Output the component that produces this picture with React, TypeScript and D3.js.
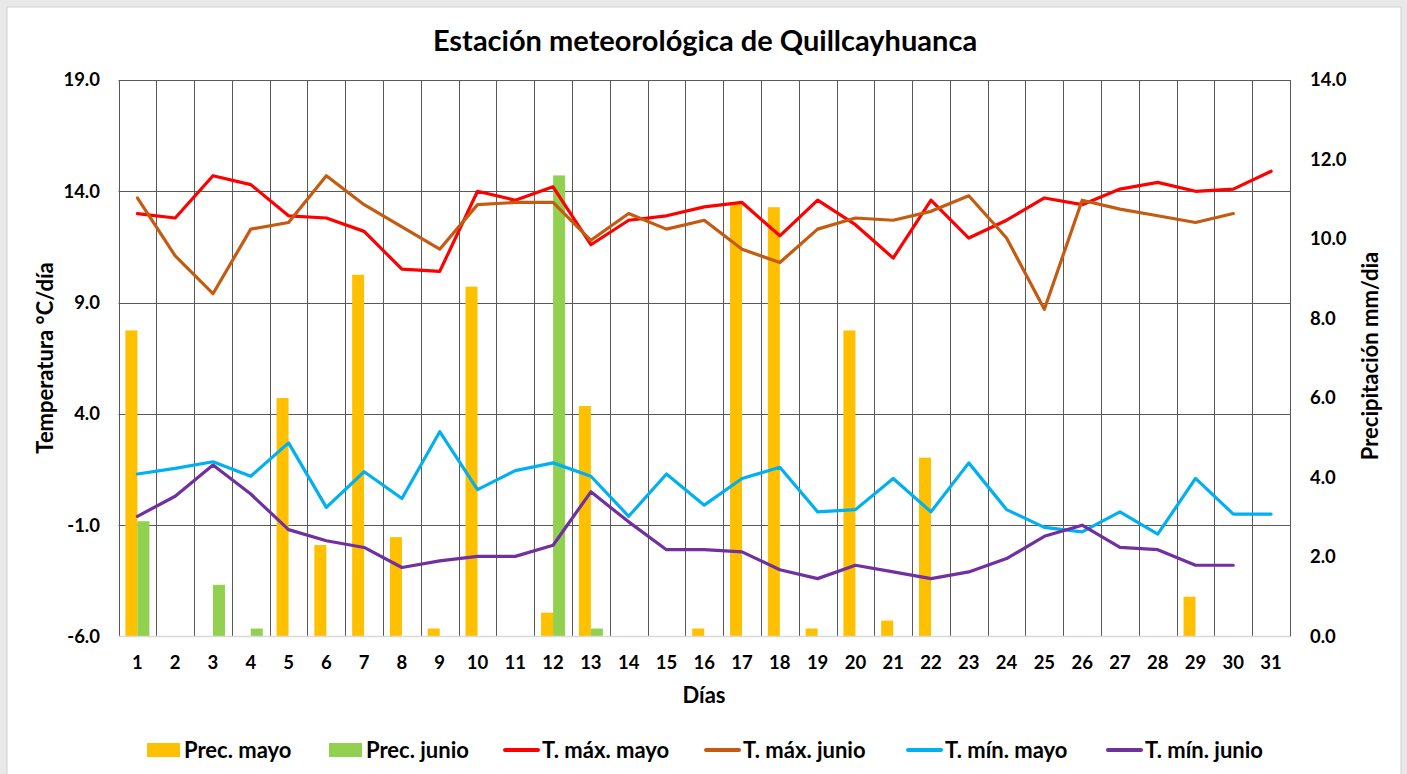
import React from "react";
import * as d3 from "d3";

// ---------- DATA ----------
const days: number[] = Array.from({ length: 31 }, (_, i) => i + 1);

const precMayo: number[] = [7.7, 0, 0, 0, 6.0, 2.3, 9.1, 2.5, 0.2, 8.8, 0, 0.6, 5.8, 0, 0, 0.2, 10.9, 10.8, 0.2, 7.7, 0.4, 4.5, 0, 0, 0, 0, 0, 0, 1.0, 0, 0];
const precJunio: number[] = [2.9, 0, 1.3, 0.2, 0, 0, 0, 0, 0, 0, 0, 11.6, 0.2, 0, 0, 0, 0, 0, 0, 0, 0, 0, 0, 0, 0, 0, 0, 0, 0, 0];

const tMaxMayo: number[] = [13.0, 12.8, 14.7, 14.3, 12.9, 12.8, 12.2, 10.5, 10.4, 14.0, 13.6, 14.2, 11.6, 12.7, 12.9, 13.3, 13.5, 12.0, 13.6, 12.5, 11.0, 13.6, 11.9, 12.7, 13.7, 13.4, 14.1, 14.4, 14.0, 14.1, 14.9];
const tMaxJunio: number[] = [13.7, 11.1, 9.4, 12.3, 12.6, 14.7, 13.4, 12.4, 11.4, 13.4, 13.5, 13.5, 11.8, 13.0, 12.3, 12.7, 11.4, 10.8, 12.3, 12.8, 12.7, 13.1, 13.8, 11.9, 8.7, 13.6, 13.2, 12.9, 12.6, 13.0];
const tMinMayo: number[] = [1.3, 1.55, 1.85, 1.2, 2.7, -0.2, 1.4, 0.2, 3.2, 0.6, 1.45, 1.8, 1.2, -0.6, 1.3, -0.1, 1.1, 1.6, -0.4, -0.3, 1.1, -0.4, 1.8, -0.3, -1.1, -1.3, -0.4, -1.4, 1.1, -0.5, -0.5];
const tMinJunio: number[] = [-0.6, 0.3, 1.7, 0.4, -1.2, -1.7, -2.0, -2.9, -2.6, -2.4, -2.4, -1.9, 0.5, -0.85, -2.1, -2.1, -2.2, -3.0, -3.4, -2.8, -3.1, -3.4, -3.1, -2.5, -1.5, -1.0, -2.0, -2.1, -2.8, -2.8];

const tempTicks: number[] = [-6, -1, 4, 9, 14, 19];
const precTicks: number[] = [0, 2, 4, 6, 8, 10, 12, 14];

const titleText = "Estación meteorológica de Quillcayhuanca";
const xTitle = "Días";
const yLeftTitle = "Temperatura °C/día";
const yRightTitle = "Precipitación mm/dia";

const barSeries = [
  { name: "Prec. mayo", values: precMayo },
  { name: "Prec. junio", values: precJunio },
];
const lineSeries = [
  { name: "T. máx. mayo", values: tMaxMayo },
  { name: "T. máx. junio", values: tMaxJunio },
  { name: "T. mín. mayo", values: tMinMayo },
  { name: "T. mín. junio", values: tMinJunio },
];

// ---------- STYLE / LAYOUT ----------
const W = 1407;
const H = 774;
const FONT = "Lato, 'Open Sans', sans-serif";
const barColors = ["#FFC000", "#92D050"];
const lineColors = ["#FF0000", "#C55A11", "#00B0F0", "#7030A0"];
const plot = { left: 118.5, right: 1290, top: 80, bottom: 636.5 };
const legendSwatchX = [147, 329, 505, 706, 908, 1108];

export default function App() {
  const x = d3
    .scaleBand<number>()
    .domain(days)
    .range([plot.left, plot.right])
    .paddingInner(0.365)
    .paddingOuter(0.1825);
  const step = x.step();
  const xSub = d3
    .scaleBand<number>()
    .domain([0, 1])
    .range([0, x.bandwidth()]);
  const cx = (d: number) => (x(d) as number) + x.bandwidth() / 2;

  const yT = d3.scaleLinear().domain([-6, 19]).range([plot.bottom, plot.top]);
  const yP = d3.scaleLinear().domain([0, 14]).range([plot.bottom, plot.top]);

  const line = d3
    .line<number>()
    .x((_, i) => cx(days[i]))
    .y((v) => yT(v));

  const boundaries = d3.range(days.length + 1).map((i) => plot.left + i * step);

  const legendItems = [
    ...barSeries.map((s, i) => ({ name: s.name, kind: "bar", color: barColors[i] })),
    ...lineSeries.map((s, i) => ({ name: s.name, kind: "line", color: lineColors[i] })),
  ];

  return (
    <svg
      width={W}
      height={H}
      style={{ position: "absolute", left: 0, top: 0, display: "block" }}
      fontFamily={FONT}
    >
      <rect x={0} y={0} width={W} height={H} fill="#e9e9e9" />
      <rect x={7} y={7} width={1394} height={H} fill="#ffffff" stroke="#cfcfcf" strokeWidth={1} />

      {/* title */}
      <text x={705} y={51} textAnchor="middle" fontSize={29} fontWeight={700} fill="#000">
        {titleText}
      </text>

      {/* horizontal grid */}
      {tempTicks.slice(1).map((t) => (
        <line key={"h" + t} x1={plot.left} x2={plot.right} y1={Math.round(yT(t)) + 0.5} y2={Math.round(yT(t)) + 0.5} stroke="#595959" strokeWidth={1} />
      ))}
      {/* vertical grid */}
      {boundaries.map((b, i) => (
        <line key={"v" + i} x1={Math.round(b) + 0.5} x2={Math.round(b) + 0.5} y1={plot.top} y2={plot.bottom} stroke="#595959" strokeWidth={1} />
      ))}

      {/* bars */}
      {barSeries.map((s, si) =>
        s.values.map((v, i) =>
          v > 0 ? (
            <rect
              key={s.name + i}
              x={(x(days[i]) as number) + (xSub(si) as number)}
              y={yP(v)}
              width={xSub.bandwidth()}
              height={yP(0) - yP(v)}
              fill={barColors[si]}
            />
          ) : null
        )
      )}

      {/* bottom axis line */}
      <line x1={plot.left} x2={plot.right} y1={plot.bottom} y2={plot.bottom} stroke="#d9d9d9" strokeWidth={1.5} />

      {/* lines */}
      {lineSeries.map((s, si) => (
        <path
          key={s.name}
          d={line(s.values) as string}
          fill="none"
          stroke={lineColors[si]}
          strokeWidth={3.2}
          strokeLinejoin="round"
          strokeLinecap="round"
        />
      ))}

      {/* left ticks */}
      {tempTicks.map((t) => (
        <text key={"lt" + t} x={100} y={yT(t)} dy="0.35em" textAnchor="end" fontSize={18.5} fontWeight={700} fill="#000">
          {t.toFixed(1)}
        </text>
      ))}
      {/* right ticks */}
      {precTicks.map((t) => (
        <text key={"rt" + t} x={1310} y={yP(t)} dy="0.35em" textAnchor="start" fontSize={18.5} fontWeight={700} fill="#000">
          {t.toFixed(1)}
        </text>
      ))}
      {/* x ticks */}
      {days.map((d) => (
        <text key={"xt" + d} x={cx(d)} y={663} dy="0.35em" textAnchor="middle" fontSize={18.5} fontWeight={700} fill="#000">
          {d}
        </text>
      ))}

      {/* axis titles */}
      <text x={704} y={695} dy="0.35em" textAnchor="middle" fontSize={22} fontWeight={700} fill="#000">
        {xTitle}
      </text>
      <text
        transform={`translate(45, ${358}) rotate(-90)`}
        dy="0.35em"
        textAnchor="middle"
        fontSize={22}
        fontWeight={700}
        fill="#000"
      >
        {yLeftTitle}
      </text>
      <text
        transform={`translate(1370, ${356}) rotate(-90)`}
        dy="0.35em"
        textAnchor="middle"
        fontSize={22}
        fontWeight={700}
        fill="#000"
      >
        {yRightTitle}
      </text>

      {/* legend */}
      {legendItems.map((it, i) => {
        const lx = legendSwatchX[i];
        return (
          <g key={"lg" + i}>
            {it.kind === "bar" ? (
              <rect x={lx} y={743} width={33} height={14} fill={it.color} />
            ) : (
              <line x1={lx} x2={lx + 33} y1={750} y2={750} stroke={it.color} strokeWidth={4} strokeLinecap="round" />
            )}
            <text x={lx + 37} y={750} dy="0.35em" fontSize={22} fontWeight={700} fill="#000">
              {it.name}
            </text>
          </g>
        );
      })}
    </svg>
  );
}
